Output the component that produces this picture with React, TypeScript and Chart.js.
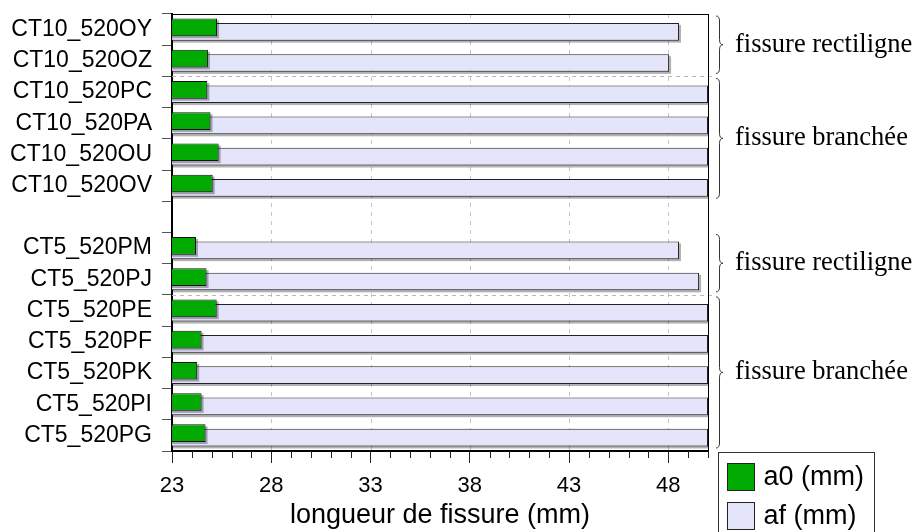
import React, { useEffect, useRef } from 'react';
import { Chart, registerables } from 'chart.js';

Chart.register(...registerables);

const categories = [
  'CT10_520OY', 'CT10_520OZ', 'CT10_520PC', 'CT10_520PA', 'CT10_520OU', 'CT10_520OV',
  '',
  'CT5_520PM', 'CT5_520PJ', 'CT5_520PE', 'CT5_520PF', 'CT5_520PK', 'CT5_520PI', 'CT5_520PG',
];
const a0Values = [25.27, 24.81, 24.78, 24.94, 25.35, 25.05, null, 24.21, 24.74, 25.25, 24.49, 24.27, 24.49, 24.69];
const afValues = [48.54, 48.04, 50, 50, 50, 50, null, 48.54, 49.55, 50, 50, 50, 50, 50];
const xTicks = [23, 28, 33, 38, 43, 48];
const xMin = 23;
const xMax = 50;
const groupLabels = ['fissure rectiligne', 'fissure branchée', 'fissure rectiligne', 'fissure branchée'];
const groupFrom = [0, 2, 7, 9];
const groupTo = [1, 5, 8, 13];
const separatorsAfter = [1, 8];

const SANS = '"Liberation Sans", Arial, sans-serif';
const SERIF = '"Liberation Serif", "Times New Roman", serif';

const decor = {
  id: 'decor',
  beforeDatasetsDraw(chart: any) {
    const { ctx, chartArea, scales } = chart;
    const x = scales.x;
    const y = scales.y;
    ctx.save();
    ctx.strokeStyle = '#c4c4c4';
    ctx.lineWidth = 1;
    ctx.setLineDash([4, 5]);
    xTicks.forEach((v) => {
      if (v === xMin) return;
      const px = Math.round(x.getPixelForValue(v)) + 0.5;
      ctx.beginPath();
      ctx.moveTo(px, chartArea.top);
      ctx.lineTo(px, chartArea.bottom);
      ctx.stroke();
    });
    ctx.strokeStyle = '#b8b8b8';
    ctx.setLineDash([4, 4]);
    separatorsAfter.forEach((i) => {
      const py = Math.round((y.getPixelForValue(i) + y.getPixelForValue(i + 1)) / 2) + 0.5;
      ctx.beginPath();
      ctx.moveTo(chartArea.left, py);
      ctx.lineTo(chartArea.right + 7, py);
      ctx.stroke();
    });
    ctx.restore();
  },
  beforeDatasetDraw(chart: any, args: any) {
    const { ctx, chartArea } = chart;
    const meta = args.meta;
    ctx.save();
    ctx.beginPath();
    ctx.rect(chartArea.left, chartArea.top, chartArea.right - chartArea.left, chartArea.bottom - chartArea.top);
    ctx.clip();
    ctx.fillStyle = 'rgba(0,0,0,0.3)';
    meta.data.forEach((el: any) => {
      if (el.skip || !isFinite(el.x)) return;
      const left = Math.min(el.x, el.base);
      const w = Math.abs(el.x - el.base);
      ctx.fillRect(left + 2, el.y - el.height / 2 + 2, w, el.height);
    });
    ctx.restore();
  },
  afterDraw(chart: any) {
    const { ctx, chartArea, scales } = chart;
    const x = scales.x;
    const y = scales.y;
    ctx.save();
    ctx.strokeStyle = '#000';
    ctx.lineWidth = 1;
    ctx.beginPath();
    ctx.moveTo(chartArea.left, Math.round(chartArea.top) + 0.5);
    ctx.lineTo(chartArea.right, Math.round(chartArea.top) + 0.5);
    ctx.moveTo(Math.round(chartArea.right) + 0.5, chartArea.top);
    ctx.lineTo(Math.round(chartArea.right) + 0.5, chartArea.bottom);
    ctx.stroke();
    ctx.strokeStyle = '#222';
    ctx.beginPath();
    for (let v = xMin + 1; v <= xMax; v++) {
      if (xTicks.includes(v)) continue;
      const px = Math.round(x.getPixelForValue(v)) + 0.5;
      ctx.moveTo(px, chartArea.bottom);
      ctx.lineTo(px, chartArea.bottom + 7);
    }
    ctx.stroke();
    const x0 = chartArea.right + 8;
    const x1 = chartArea.right + 15;
    const xm = (x0 + x1) / 2;
    const half = (y.getPixelForValue(1) - y.getPixelForValue(0)) / 2;
    ctx.strokeStyle = '#333';
    ctx.lineWidth = 1;
    ctx.fillStyle = '#000';
    ctx.font = `26.5px ${SERIF}`;
    ctx.textBaseline = 'middle';
    ctx.textAlign = 'left';
    groupLabels.forEach((label, g) => {
      const y0 = y.getPixelForValue(groupFrom[g]) - half + 2;
      const y1 = y.getPixelForValue(groupTo[g]) + half - 3;
      const ym = (y0 + y1) / 2;
      const r = 5;
      ctx.beginPath();
      ctx.moveTo(x0, y0);
      ctx.quadraticCurveTo(xm, y0, xm, y0 + r);
      ctx.lineTo(xm, ym - r);
      ctx.quadraticCurveTo(xm, ym, x1, ym);
      ctx.quadraticCurveTo(xm, ym, xm, ym + r);
      ctx.lineTo(xm, y1 - r);
      ctx.quadraticCurveTo(xm, y1, x0, y1);
      ctx.stroke();
      ctx.fillText(label, chartArea.right + 27, ym);
    });
    const lx = Math.round(chartArea.right + 10) + 0.5;
    const ly = Math.round(chartArea.bottom + 1) + 0.5;
    ctx.fillStyle = '#fff';
    ctx.fillRect(lx, ly, 156, 100);
    ctx.strokeStyle = '#333';
    ctx.strokeRect(lx, ly, 156, 100);
    ctx.font = `27px ${SANS}`;
    chart.data.datasets.forEach((ds: any, i: number) => {
      const sx = lx + 9;
      const sy = ly + 11 + i * 39;
      ctx.fillStyle = ds.backgroundColor;
      ctx.fillRect(sx, sy, 27, 27);
      ctx.strokeStyle = '#222';
      ctx.strokeRect(sx, sy, 27, 27);
      ctx.fillStyle = '#000';
      ctx.fillText(ds.label, lx + 45, sy + 14);
    });
    ctx.restore();
  },
};

export default function App() {
  const canvasRef = useRef<HTMLCanvasElement | null>(null);

  useEffect(() => {
    document.body.style.margin = '0';
    const canvas = canvasRef.current;
    if (!canvas) return;
    const chart = new Chart(canvas, {
      type: 'bar',
      data: {
        labels: categories,
        datasets: [
          {
            label: 'a0 (mm)',
            data: a0Values,
            backgroundColor: '#00aa00',
            borderColor: '#111111',
            borderWidth: 1,
            borderSkipped: false,
            categoryPercentage: 0.282,
            barPercentage: 4.02,
          },
          {
            label: 'af (mm)',
            data: afValues,
            backgroundColor: '#e4e4fb',
            borderColor: '#222222',
            borderWidth: 1,
            borderSkipped: false,
            categoryPercentage: 0.282,
            barPercentage: 4.02,
          },
        ],
      } as any,
      options: {
        indexAxis: 'y',
        animation: false,
        responsive: false,
        maintainAspectRatio: false,
        layout: { padding: { top: 14, right: 206, left: 0, bottom: 0 } },
        plugins: {
          legend: { display: false },
          tooltip: { enabled: false },
        },
        scales: {
          x: {
            type: 'linear',
            min: xMin,
            max: xMax,
            afterBuildTicks: (scale: any) => {
              scale.ticks = xTicks.map((v) => ({ value: v }));
            },
            afterFit: (scale: any) => {
              scale.height = 81;
              scale.paddingLeft = 0;
              scale.paddingRight = 0;
            },
            grid: {
              display: true,
              drawOnChartArea: false,
              drawTicks: true,
              tickLength: 12,
              tickColor: '#222',
            },
            border: { display: true, color: '#000', width: 2 },
            ticks: {
              color: '#000',
              font: { family: SANS, size: 22 },
              padding: 10,
              maxRotation: 0,
              callback: (v: any) => String(v),
            },
            title: {
              display: true,
              text: 'longueur de fissure (mm)',
              color: '#000',
              font: { family: SANS, size: 27 },
              padding: { top: 0, bottom: 0 },
            },
          },
          y: {
            type: 'category',
            afterFit: (scale: any) => {
              scale.width = 172;
              scale.paddingTop = 0;
              scale.paddingBottom = 0;
            },
            grid: {
              display: true,
              drawOnChartArea: false,
              drawTicks: true,
              tickLength: 10,
              tickColor: '#555',
              offset: true,
            },
            border: { display: true, color: '#000', width: 2 },
            ticks: {
              color: '#000',
              font: { family: SANS, size: 23 },
              padding: 10,
              autoSkip: false,
            },
          },
        },
      } as any,
      plugins: [decor],
    });
    return () => chart.destroy();
  }, []);

  return (
    <div style={{ width: 914, height: 532 }}>
      <canvas ref={canvasRef} width={914} height={532} />
    </div>
  );
}
